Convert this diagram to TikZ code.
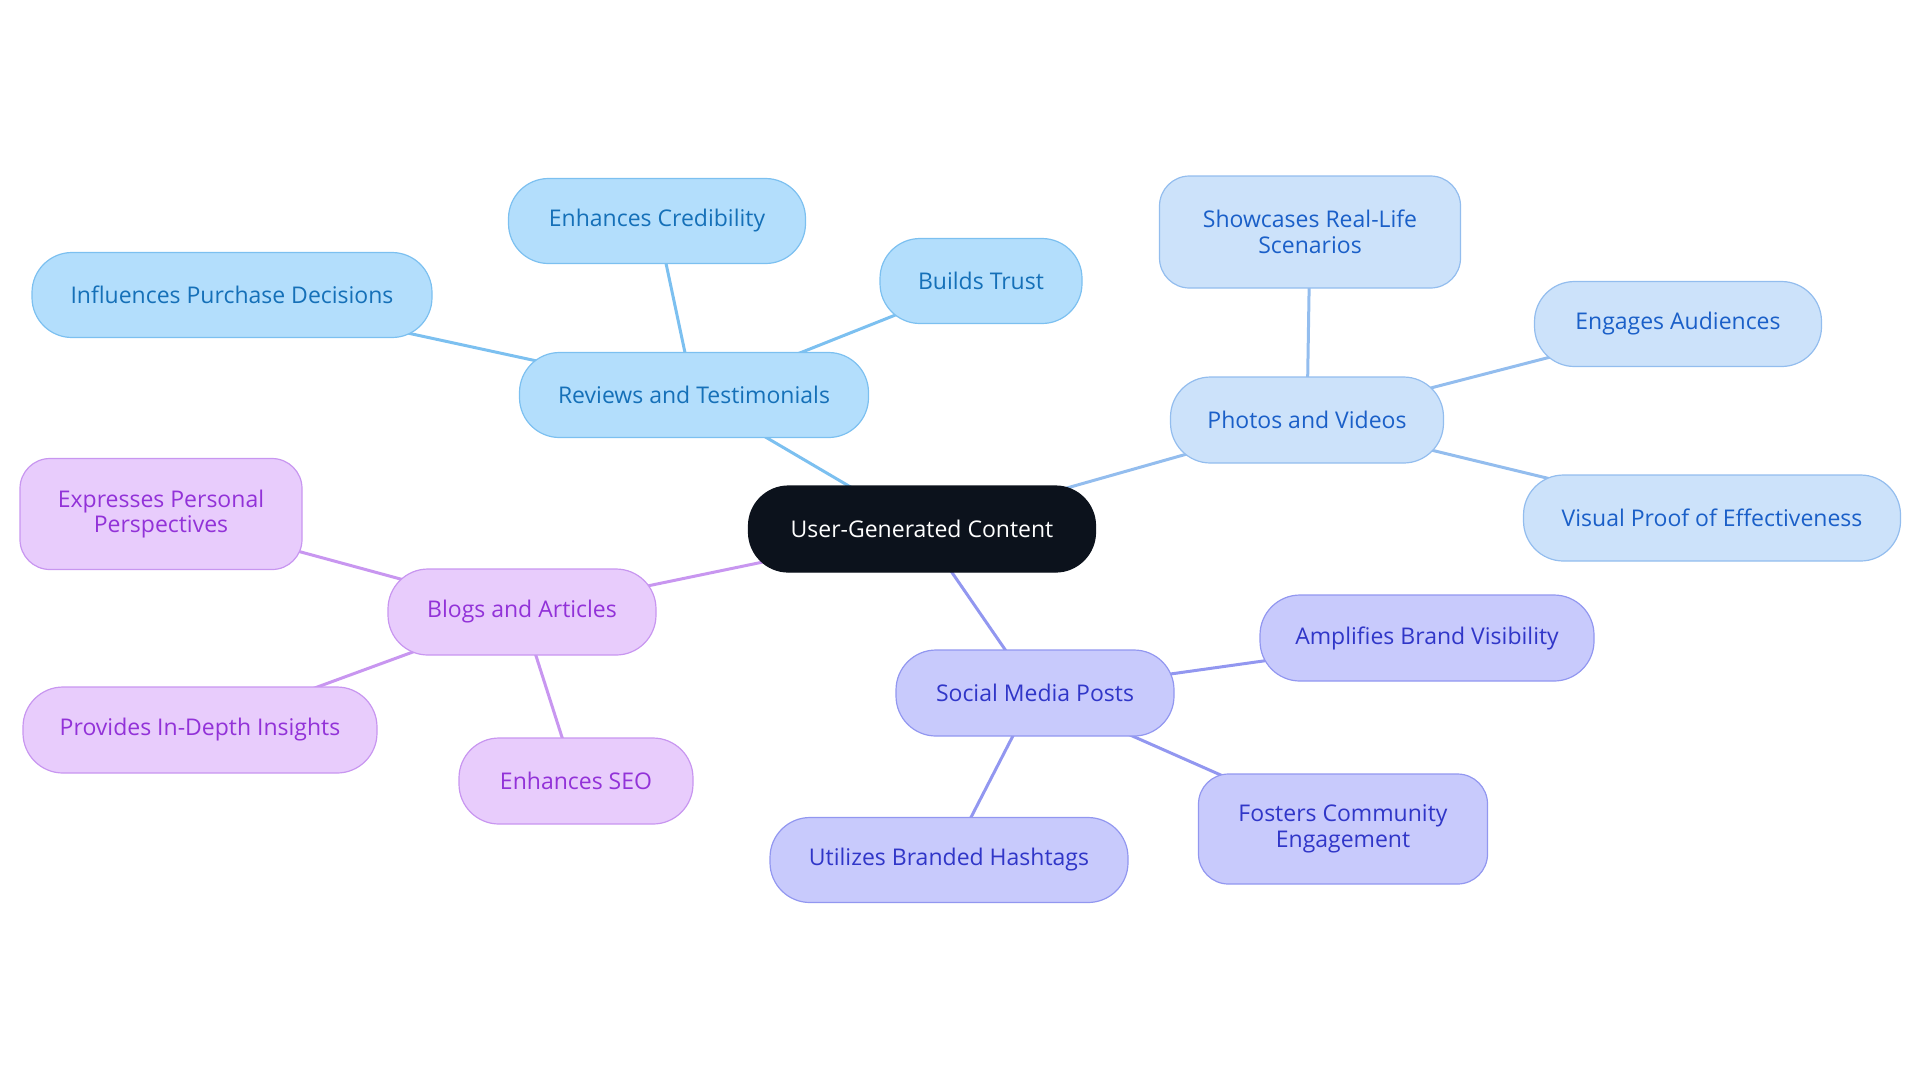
\documentclass[tikz,border=0pt]{standalone}
\usepackage{fontspec}
\setmainfont{Open Sans}
\usetikzlibrary{backgrounds}
\definecolor{cB}{HTML}{B3DEFC}\definecolor{sB}{HTML}{7CC0F0}\definecolor{tB}{HTML}{1570B8}
\definecolor{cP}{HTML}{CCE2FA}\definecolor{sP}{HTML}{93BDEE}\definecolor{tP}{HTML}{1A5FC8}
\definecolor{cU}{HTML}{E8CCFC}\definecolor{sU}{HTML}{C896F0}\definecolor{tU}{HTML}{9232D8}
\definecolor{cS}{HTML}{C8CAFC}\definecolor{sS}{HTML}{9297F0}\definecolor{tS}{HTML}{3036C8}
\definecolor{cC}{HTML}{0C121C}
\tikzset{
  box/.style={draw, line width=0.6pt, align=center, inner sep=0pt, font=\fontsize{11.5}{12.8}\selectfont, rounded corners=20pt},
  two/.style={rounded corners=15pt},
  bB/.style={box, fill=cB, draw=sB, text=tB},
  bP/.style={box, fill=cP, draw=sP, text=tP},
  bU/.style={box, fill=cU, draw=sU, text=tU},
  bS/.style={box, fill=cS, draw=sS, text=tS},
  lB/.style={draw=sB, line width=1.5pt},
  lP/.style={draw=sP, line width=1.5pt},
  lU/.style={draw=sU, line width=1.5pt},
  lS/.style={draw=sS, line width=1.5pt},
}
\begin{document}
\begin{tikzpicture}[x=0.5pt,y=-0.5pt]
\useasboundingbox (0,0) rectangle (1920,1083);
\node[box, fill=cC, draw=cC, text=white, minimum width=173.5pt, minimum height=43pt] (c) at (922,529) {User-Generated Content};
% blue branch
\node[bB, minimum width=174.5pt, minimum height=42.5pt] (rt) at (694,395) {Reviews and Testimonials};
\node[bB, minimum width=148.5pt, minimum height=42.5pt] (ec) at (657,221) {Enhances Credibility};
\node[bB, minimum width=101pt, minimum height=42.5pt] (bt) at (981,281) {Builds Trust};
\node[bB, minimum width=200pt, minimum height=42.5pt] (ip) at (232,295) {Influences Purchase Decisions};
% photos branch
\node[bP, minimum width=136.5pt, minimum height=43pt] (pv) at (1307,420) {Photos and Videos};
\node[bP, two, minimum width=150.5pt, minimum height=56pt] (sr) at (1310,232) {Showcases Real-Life\\Scenarios};
\node[bP, minimum width=143.5pt, minimum height=42.5pt] (ea) at (1678,324) {Engages Audiences};
\node[bP, minimum width=188.5pt, minimum height=43pt] (vp) at (1712,518) {Visual Proof of Effectiveness};
% purple branch
\node[bU, minimum width=134pt, minimum height=43pt] (ba) at (522,612) {Blogs and Articles};
\node[bU, two, minimum width=141pt, minimum height=55.5pt] (ep) at (161,514) {Expresses Personal\\Perspectives};
\node[bU, minimum width=177pt, minimum height=43pt] (pi) at (200,730) {Provides In-Depth Insights};
\node[bU, minimum width=117pt, minimum height=43pt] (es) at (576,781) {Enhances SEO};
% social branch
\node[bS, minimum width=139pt, minimum height=43pt] (sm) at (1035,693) {Social Media Posts};
\node[bS, minimum width=167pt, minimum height=43pt] (ab) at (1427,638) {Amplifies Brand Visibility};
\node[bS, two, minimum width=144.5pt, minimum height=55pt] (fc) at (1343,829) {Fosters Community\\Engagement};
\node[bS, minimum width=179pt, minimum height=42.5pt] (ub) at (949,860) {Utilizes Branded Hashtags};
\begin{scope}[on background layer]
\draw[lB] (c.center) -- (rt.center);
\draw[lB] (rt.center) -- (ec.center);
\draw[lB] (rt.center) -- (bt.center);
\draw[lB] (rt.center) -- (ip.center);
\draw[lP] (c.center) -- (pv.center);
\draw[lP] (pv.center) -- (sr.center);
\draw[lP] (pv.center) -- (ea.center);
\draw[lP] (pv.center) -- (vp.center);
\draw[lU] (c.center) -- (ba.center);
\draw[lU] (ba.center) -- (ep.center);
\draw[lU] (ba.center) -- (pi.center);
\draw[lU] (ba.center) -- (es.center);
\draw[lS] (c.center) -- (sm.center);
\draw[lS] (sm.center) -- (ab.center);
\draw[lS] (sm.center) -- (fc.center);
\draw[lS] (sm.center) -- (ub.center);
\end{scope}
\end{tikzpicture}
\end{document}
